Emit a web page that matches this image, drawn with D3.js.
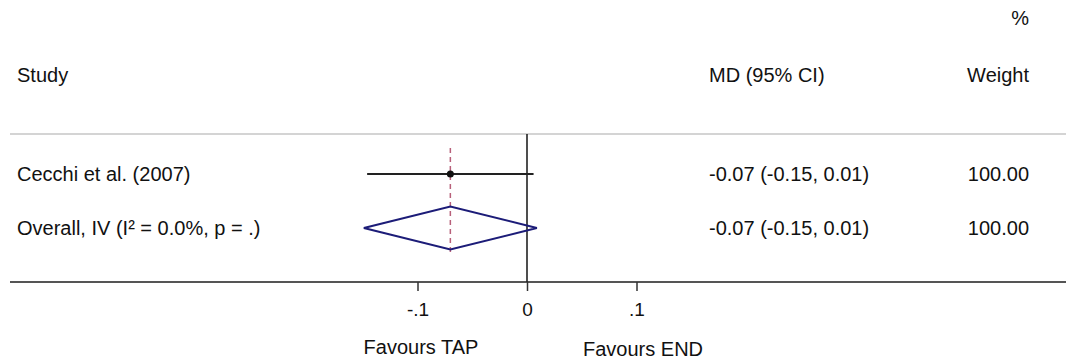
<!DOCTYPE html>
<html>
<head>
<meta charset="utf-8">
<script src="https://cdn.jsdelivr.net/npm/d3@7"></script>
<style>
body { margin: 0; background: #fff; }
text { font-family: "Liberation Sans", Arial, Helvetica, sans-serif; fill: #111; }
</style>
</head>
<body>
<script>
var width = 1066,
    height = 361;

// study rows
var studies = ["Cecchi et al. (2007)"];
var estimates = [-0.07];
var lower = [-0.146];
var upper = [0.006];
var ciText = ["-0.07 (-0.15, 0.01)"];
var weights = ["100.00"];

// pooled
var overallLabel = "Overall, IV (I\u00B2 = 0.0%, p = .)";
var overallEst = -0.07;
var overallLo = -0.149;
var overallHi = 0.009;
var overallCiText = "-0.07 (-0.15, 0.01)";
var overallWeight = "100.00";

var tickValues = [-0.1, 0, 0.1];
var tickLabels = ["-.1", "0", ".1"];
var favourLabels = ["Favours TAP", "Favours END"];

var svg = d3.select("body").append("svg")
    .attr("width", width)
    .attr("height", height);

var x = d3.scaleLinear()
    .domain([-0.1, 0.1])
    .range([417.5, 636.5]);

var rowNames = studies.concat([overallLabel]);
var y = d3.scalePoint()
    .domain(rowNames)
    .range([174, 228]);

var topY = 134, bottomY = 282;

// header
svg.append("text").attr("x", 1029).attr("y", 25).attr("text-anchor", "end")
    .style("font-size", "20px").text("%");
svg.append("text").attr("x", 17).attr("y", 82).style("font-size", "20px").text("Study");
svg.append("text").attr("x", 709).attr("y", 82).style("font-size", "20px").text("MD (95% CI)");
svg.append("text").attr("x", 1029).attr("y", 82).attr("text-anchor", "end")
    .style("font-size", "20px").text("Weight");

// top and bottom rules
svg.append("line").attr("x1", 10).attr("x2", width).attr("y1", topY).attr("y2", topY)
    .attr("stroke", "#d4d4d4").attr("stroke-width", 2);
svg.append("line").attr("x1", 10).attr("x2", width).attr("y1", bottomY).attr("y2", bottomY)
    .attr("stroke", "#555").attr("stroke-width", 2);

// null line
svg.append("line").attr("x1", x(0)).attr("x2", x(0)).attr("y1", topY).attr("y2", bottomY)
    .attr("stroke", "#222").attr("stroke-width", 1.6);

// overall estimate dashed line
svg.append("line").attr("x1", x(overallEst)).attr("x2", x(overallEst))
    .attr("y1", 148).attr("y2", 252)
    .attr("stroke", "#b8607a").attr("stroke-width", 1.5)
    .attr("stroke-dasharray", "5,4");

// study CIs and points
var rows = svg.append("g");
studies.forEach(function(s, i) {
    rows.append("line")
        .attr("x1", x(lower[i])).attr("x2", x(upper[i]))
        .attr("y1", y(s)).attr("y2", y(s))
        .attr("stroke", "#222").attr("stroke-width", 2);
    rows.append("circle")
        .attr("cx", x(estimates[i])).attr("cy", y(s)).attr("r", 3.5)
        .attr("fill", "#111");
    rows.append("text").attr("x", 17).attr("y", y(s) + 7)
        .style("font-size", "20px").text(s);
    rows.append("text").attr("x", 709).attr("y", y(s) + 7)
        .style("font-size", "20px").text(ciText[i]);
    rows.append("text").attr("x", 1029).attr("y", y(s) + 7).attr("text-anchor", "end")
        .style("font-size", "20px").text(weights[i]);
});

// diamond
var yo = y(overallLabel), hh = 21.5;
svg.append("path")
    .attr("d", "M" + x(overallLo) + "," + yo +
               "L" + x(overallEst) + "," + (yo - hh) +
               "L" + x(overallHi) + "," + yo +
               "L" + x(overallEst) + "," + (yo + hh) + "Z")
    .attr("fill", "none").attr("stroke", "#1c1c78").attr("stroke-width", 2);
svg.append("text").attr("x", 17).attr("y", yo + 7).style("font-size", "20px").text(overallLabel);
svg.append("text").attr("x", 709).attr("y", yo + 7).style("font-size", "20px").text(overallCiText);
svg.append("text").attr("x", 1029).attr("y", yo + 7).attr("text-anchor", "end")
    .style("font-size", "20px").text(overallWeight);

// axis
var axis = d3.axisBottom(x)
    .tickValues(tickValues)
    .tickSize(9)
    .tickPadding(12)
    .tickFormat(function(d, i) { return tickLabels[i]; });
var ag = svg.append("g").attr("transform", "translate(0," + bottomY + ")").call(axis);
ag.select(".domain").remove();
ag.selectAll(".tick line").attr("stroke", "#333").attr("stroke-width", 1.5);
ag.selectAll(".tick text").style("font-size", "19px")
    .style("font-family", "'Liberation Sans', Arial, sans-serif").attr("fill", "#111");

// favours labels
svg.append("text").attr("x", 421).attr("y", 354).attr("text-anchor", "middle")
    .style("font-size", "20px").text(favourLabels[0]);
svg.append("text").attr("x", 643).attr("y", 356).attr("text-anchor", "middle")
    .style("font-size", "20px").text(favourLabels[1]);
</script>
</body>
</html>
